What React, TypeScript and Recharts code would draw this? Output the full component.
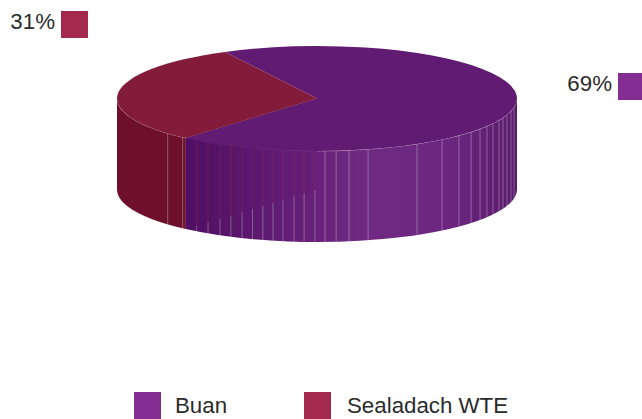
import { PieChart, Pie, Legend } from "recharts";

const categories = ["Buan", "Sealadach WTE"];
const shares = [69, 31];
const legendColors = ["#832d93", "#a3294f"];
const topColors = ["#611b72", "#831b3b"];
const percentLabels = ["69%", "31%"];

// angle of each visible facet seam on the side wall, degrees
const facetSeams = [
  221.7, 227.8, 233, 237, 241, 244.5, 248, 251.2, 254.3, 257.3, 260.2, 263.4, 266.3, 269.4,
  272.3, 275.5, 279.2, 284.8, 300, 308.7, 315.2, 320.4, 324.6, 328.2, 331.6, 335.5, 338.4,
  341.8, 346, 350.1,
];

const WIDTH = 642;
const HEIGHT = 419;
const CX = 317;
const CY = 98.5;
const RADIUS = 200;
const SQUASH = 52.5 / 200;
const DEPTH = 91;
const SWATCH = 27;
const FONT = "'Liberation Sans', Arial, sans-serif";
const FONT_SIZE = 22.3;
const TEXT = "#2b2b2b";

const labelSpots = [
  { x: 618, y: 73 },
  { x: 61, y: 11 },
];

function rimPoint(cx: number, cy: number, r: number, deg: number) {
  const a = (deg * Math.PI) / 180;
  return { x: cx + r * Math.cos(a), y: cy - r * SQUASH * Math.sin(a) };
}

function arcPath(cx: number, cy: number, r: number, from: number, to: number) {
  // walks the ellipse counter-clockwise on screen
  const end = rimPoint(cx, cy, r, to);
  const large = to - from > 180 ? 1 : 0;
  return `A ${r} ${r * SQUASH} 0 ${large} 0 ${end.x} ${end.y}`;
}

function Slice(props: any) {
  const { cx, cy, outerRadius: r, index } = props;
  // the pie runs past 360, bring the later slice back
  const shift = props.startAngle >= 360 ? 360 : 0;
  const startAngle = props.startAngle - shift;
  const endAngle = props.endAngle - shift;

  const top = rimPoint(cx, cy, r, startAngle);
  const wallFrom = Math.max(startAngle, 180);
  const wallTo = Math.min(endAngle, 360);
  const a = rimPoint(cx, cy, r, wallFrom);
  const b = rimPoint(cx, cy, r, wallTo);
  const wall =
    `M ${a.x} ${a.y} ` +
    arcPath(cx, cy, r, wallFrom, wallTo) +
    ` L ${b.x} ${b.y + DEPTH} ` +
    `A ${r} ${r * SQUASH} 0 0 1 ${a.x} ${a.y + DEPTH} Z`;
  const seams = facetSeams.filter((s) => s > wallFrom && s < wallTo);
  const diagonalAt = (x: number) =>
    cy + DEPTH + ((a.y - cy) * (cx - x)) / (cx - a.x);
  return (
    <g>
      <path d={wall} fill={index === 0 ? "url(#buanWall)" : "#6e102d"} />
      {seams.map((s) => {
        const p = rimPoint(cx, cy, r, s);
        return (
          <line
            key={s}
            x1={p.x}
            y1={p.y}
            x2={p.x}
            y2={p.y + DEPTH}
            stroke="#fff"
            strokeOpacity={0.3}
            strokeWidth={1}
          />
        );
      })}
      <path
        d={`M ${a.x} ${a.y} ` + arcPath(cx, cy, r, wallFrom, wallTo)}
        fill="none"
        stroke="#fff"
        strokeOpacity={0.35}
        strokeWidth={1}
      />
      {index === 0 && (
        <>
          <path
            d={`M ${cx} ${cy} L ${a.x} ${a.y} L ${a.x} ${a.y + DEPTH} L ${cx} ${cy + DEPTH} Z`}
            fill="url(#buanInner)"
          />
          {seams
            .map((s) => rimPoint(cx, cy, r, s))
            .filter((p) => p.x < cx)
            .map((p) => (
              <line
                key={p.x}
                x1={p.x}
                y1={p.y}
                x2={p.x}
                y2={diagonalAt(p.x)}
                stroke="#7f1f58"
                strokeOpacity={0.55}
                strokeWidth={1}
              />
            ))}
        </>
      )}
      <path
        d={`M ${cx} ${cy} L ${top.x} ${top.y} ` + arcPath(cx, cy, r, startAngle, endAngle) + " Z"}
        fill={topColors[index]}
      />
    </g>
  );
}

function PercentLabel(props: any) {
  const { index } = props;
  const spot = labelSpots[index];
  return (
    <g>
      <text
        x={spot.x - 6}
        y={spot.y + 18}
        textAnchor="end"
        fontFamily={FONT}
        fontSize={FONT_SIZE}
        fill={TEXT}
      >
        {percentLabels[index]}
      </text>
      <rect x={spot.x} y={spot.y} width={SWATCH} height={SWATCH} fill={legendColors[index]} />
    </g>
  );
}

function LegendRow() {
  const slots = [
    { left: 134, gap: 14 },
    { left: 304, gap: 16 },
  ];
  return (
    <div style={{ position: "relative", height: 27 }}>
      {categories.map((name, i) => (
        <div
          key={name}
          style={{
            position: "absolute",
            left: slots[i].left,
            top: 0,
            display: "flex",
            alignItems: "center",
            height: 27,
            fontFamily: FONT,
            fontSize: FONT_SIZE,
            color: TEXT,
            whiteSpace: "nowrap",
          }}
        >
          <span
            style={{
              display: "inline-block",
              width: SWATCH,
              height: SWATCH,
              marginRight: slots[i].gap,
              background: legendColors[i],
            }}
          />
          {name}
        </div>
      ))}
    </div>
  );
}

export default function App() {
  const data = categories.map((name, i) => ({ name, value: shares[i] }));

  return (
    <div style={{ position: "absolute", left: 0, top: 0, width: WIDTH, height: HEIGHT, overflow: "hidden" }}>
      <PieChart width={WIDTH} height={HEIGHT} margin={{ top: 0, right: 0, bottom: 0, left: 0 }}>
        <defs>
          <linearGradient id="buanWall" x1="0" y1="0" x2="1" y2="0">
            <stop offset="0%" stopColor="#500f62" />
            <stop offset="35%" stopColor="#651f77" />
            <stop offset="55%" stopColor="#702a82" />
            <stop offset="80%" stopColor="#6c2680" />
            <stop offset="100%" stopColor="#591a6a" />
          </linearGradient>
          <linearGradient id="buanInner" x1="0" y1="0" x2="1" y2="0">
            <stop offset="0%" stopColor="#500f62" stopOpacity={0.95} />
            <stop offset="100%" stopColor="#661f78" stopOpacity={0.85} />
          </linearGradient>
        </defs>
        <Pie
          data={data}
          dataKey="value"
          nameKey="name"
          cx={CX}
          cy={CY}
          outerRadius={RADIUS}
          startAngle={229}
          endAngle={589}
          stroke="none"
          shape={Slice}
          label={PercentLabel}
          labelLine={false}
          isAnimationActive={false}
        />
        <Legend
          content={<LegendRow />}
          layout="horizontal"
          verticalAlign="bottom"
          wrapperStyle={{ left: 0, top: 392, width: WIDTH }}
        />
      </PieChart>
    </div>
  );
}
